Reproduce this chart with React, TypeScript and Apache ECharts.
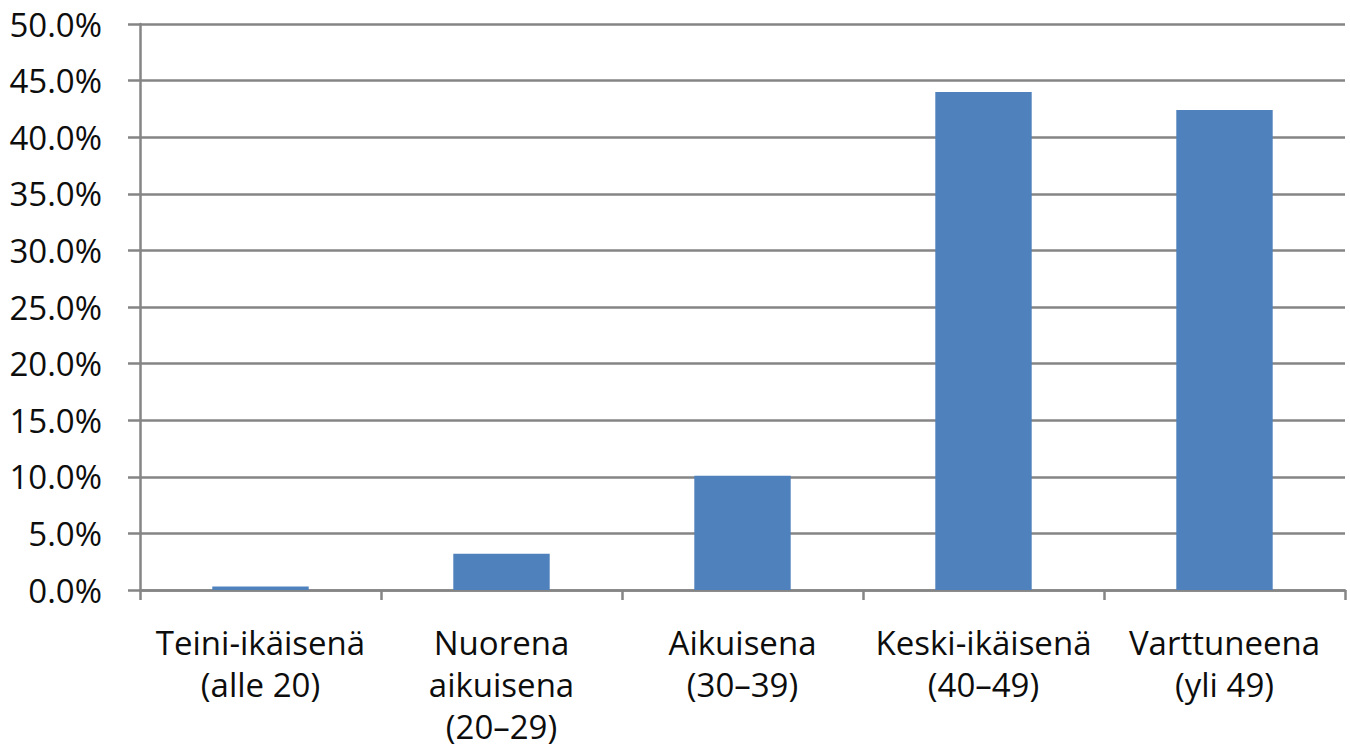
import React, { useEffect, useRef } from "react";
import * as echarts from "echarts";

const categories = [
  "Teini-ikäisenä\n(alle 20)",
  "Nuorena\naikuisena\n(20–29)",
  "Aikuisena\n(30–39)",
  "Keski-ikäisenä\n(40–49)",
  "Varttuneena\n(yli 49)",
];
const values = [0.3, 3.2, 10.1, 44.0, 42.4];
const yMin = 0;
const yMax = 50;
const yStep = 5;

export default function App() {
  const ref = useRef<HTMLDivElement>(null);
  useEffect(() => {
    if (!ref.current) return;
    const chart = echarts.init(ref.current, undefined, { renderer: "svg" });
    const font = "'Open Sans', 'DejaVu Sans', sans-serif";
    const gray = "#858585";
    chart.setOption({
      animation: false,
      backgroundColor: "#ffffff",
      grid: { left: 140, right: 5, top: 24, bottom: 161, containLabel: false },
      xAxis: {
        type: "category",
        data: categories,
        axisLine: { show: true, lineStyle: { color: gray, width: 2.5 } },
        axisTick: { show: true, length: 10, alignWithLabel: false, lineStyle: { color: gray, width: 2.5 } },
        axisLabel: {
          interval: 0,
          margin: 31,
          color: "#0d0d0d",
          fontFamily: font,
          fontSize: 33,
          lineHeight: 42,
        },
      },
      yAxis: {
        type: "value",
        min: yMin,
        max: yMax,
        interval: yStep,
        axisLine: { show: true, lineStyle: { color: gray, width: 2.5 } },
        axisTick: { show: true, length: 12, lineStyle: { color: gray, width: 2.5 } },
        splitLine: { show: true, lineStyle: { color: gray, width: 2.5 } },
        axisLabel: {
          margin: 38,
          color: "#0d0d0d",
          fontFamily: font,
          fontSize: 33,
          formatter: (v: number) => v.toFixed(1) + "%",
        },
      },
      series: [
        {
          type: "bar",
          data: values,
          barWidth: "40%",
          itemStyle: { color: "#4F81BD" },
        },
      ],
    });
    return () => chart.dispose();
  }, []);
  return (
    <div
      ref={ref}
      style={{ position: "absolute", left: 0, top: 0, width: 1350, height: 751 }}
    />
  );
}
